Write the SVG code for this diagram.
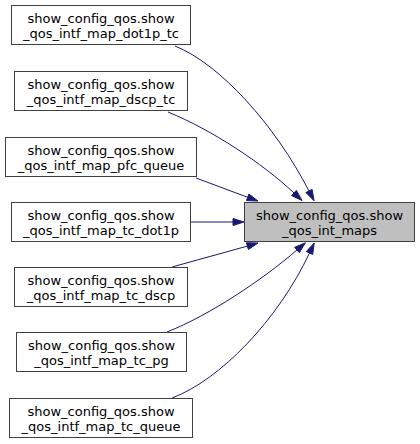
<svg xmlns="http://www.w3.org/2000/svg" width="420" height="444" viewBox="0 0 420 444">
<style>
.node rect{fill:#ffffff;stroke:#404040;stroke-width:1}
.node.target rect{fill:#bfbfbf}
.node text{font-family:"DejaVu Sans",sans-serif;font-size:13px;fill:#000;text-anchor:middle}
.edge path{fill:none;stroke:#191970;stroke-width:1}
.edge polygon{fill:#191970;stroke:#191970;stroke-width:1}
</style>
<rect width="420" height="444" fill="#ffffff"/>
<g id="connectors">
<g class="edge"><path d="M175,46 C220,64 275,125 309,191"/><polygon points="305.9,192.6 314.1,200.8 312.1,189.4"/></g>
<g class="edge"><path d="M168,112 C212,130 262,163 294,193"/><polygon points="291.6,195.6 302,200.5 296.4,190.4"/></g>
<g class="edge"><path d="M196,178 L247.7,197.3"/><polygon points="246.5,200.6 258,201 248.9,194"/></g>
<g class="edge"><path d="M191,222 L233,222"/><polygon points="233,218.5 244,222 233,225.5"/></g>
<g class="edge"><path d="M172,267 L247.4,246.1"/><polygon points="248.4,249.5 258,243 246.4,242.7"/></g>
<g class="edge"><path d="M167,332 C210,315 262,280 297,250"/><polygon points="299.3,252.7 305.4,242.8 294.7,247.3"/></g>
<g class="edge"><path d="M172,398 C220,380 278,320 309.5,253"/><polygon points="312.7,254.5 314.2,243 306.3,251.5"/></g>
</g>
<g id="node_target" class="node target"><rect x="244.5" y="202.5" width="170" height="39"/><text x="329.5" y="219.5">show_config_qos.show</text><text x="329.5" y="234.5">_qos_int_maps</text></g>
<g id="node_dot1p_tc" class="node"><rect x="11.5" y="5.5" width="179" height="39"/><text x="101" y="22.5">show_config_qos.show</text><text x="101" y="37.5">_qos_intf_map_dot1p_tc</text></g>
<g id="node_dscp_tc" class="node"><rect x="14.5" y="71.5" width="173" height="39"/><text x="101" y="88.5">show_config_qos.show</text><text x="101" y="103.5">_qos_intf_map_dscp_tc</text></g>
<g id="node_pfc_queue" class="node"><rect x="5.5" y="137.5" width="191" height="39"/><text x="101" y="154.5">show_config_qos.show</text><text x="101" y="169.5">_qos_intf_map_pfc_queue</text></g>
<g id="node_tc_dot1p" class="node"><rect x="11.5" y="202.5" width="179" height="39"/><text x="101" y="219.5">show_config_qos.show</text><text x="101" y="234.5">_qos_intf_map_tc_dot1p</text></g>
<g id="node_tc_dscp" class="node"><rect x="14.5" y="267.5" width="173" height="39"/><text x="101" y="284.5">show_config_qos.show</text><text x="101" y="299.5">_qos_intf_map_tc_dscp</text></g>
<g id="node_tc_pg" class="node"><rect x="16.5" y="332.5" width="170" height="39"/><text x="101.5" y="349.5">show_config_qos.show</text><text x="101.5" y="364.5">_qos_intf_map_tc_pg</text></g>
<g id="node_tc_queue" class="node"><rect x="9.5" y="398.5" width="183" height="39"/><text x="101" y="415.5">show_config_qos.show</text><text x="101" y="430.5">_qos_intf_map_tc_queue</text></g>
</svg>
